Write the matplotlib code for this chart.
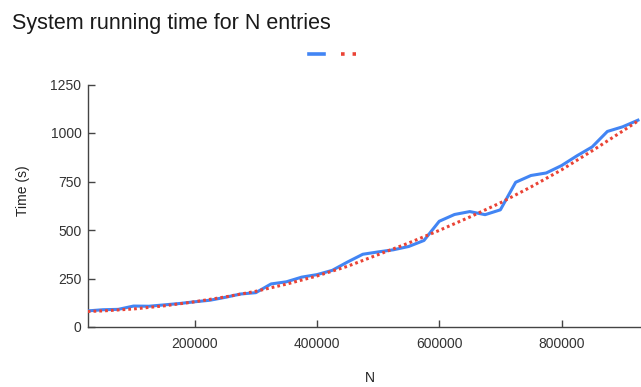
import numpy as np
import matplotlib
matplotlib.use("Agg")
import matplotlib.pyplot as plt
from matplotlib.lines import Line2D

plt.rc("font", family=["Liberation Sans", "DejaVu Sans"], size=10)

# measured running time (blue)
n_entries = [25000, 50000, 75000, 100000, 125000, 150000, 175000, 200000,
             225000, 250000, 275000, 300000, 325000, 350000, 375000, 400000,
             425000, 450000, 475000, 500000, 525000, 550000, 575000, 600000,
             625000, 650000, 675000, 700000, 725000, 750000, 775000, 800000,
             825000, 850000, 875000, 900000, 925000]
run_time = [83, 89, 91, 108, 107, 114, 121, 130,
            138, 153, 170, 177, 222, 233, 257, 270,
            292, 335, 375, 387, 398, 415, 446, 545,
            580, 595, 579, 604, 746, 781, 794, 832,
            882, 928, 1008, 1032, 1066]

# trend line (red dotted)
trend_n = [25000, 50000, 100000, 150000, 200000, 250000, 300000, 350000,
           400000, 450000, 500000, 550000, 600000, 650000, 700000, 750000,
           800000, 850000, 900000, 925000]
trend_time = [80, 83, 93, 109, 130, 155, 184, 221,
              263, 313, 373, 433, 498, 567, 640, 722,
              810, 908, 1010, 1062]

x_ticks = [200000, 400000, 600000, 800000]
y_ticks = [0, 250, 500, 750, 1000, 1250]

blue = "#4285f4"
red = "#ea4335"

fig = plt.figure(figsize=(6.41, 3.87), dpi=100)
ax = fig.add_axes([87.7/641, 1-327/387, 1-87.7/641, (327-84.5)/387])

ax.plot(n_entries, run_time, color=blue, lw=2.2, solid_joinstyle="round")
ax.plot(trend_n, trend_time, color=red, lw=2.2, linestyle=(0, (0.9, 1.0)))

ax.set_xlim(25000, 930000)
ax.set_ylim(0, 1250)
ax.set_xticks(x_ticks)
ax.set_yticks(y_ticks)
ax.set_xticklabels([str(v) for v in x_ticks])
ax.set_yticklabels([str(v) for v in y_ticks])

for s in ["top", "right"]:
    ax.spines[s].set_visible(False)
for s in ["left", "bottom"]:
    ax.spines[s].set_color("#444444")
    ax.spines[s].set_linewidth(1.0)
ax.spines["left"].set_zorder(0)
ax.tick_params(axis="both", direction="in", length=5, width=1.0,
               color="#444444", labelcolor="#333333", labelsize=10)
ax.tick_params(axis="y", pad=4.5)
ax.tick_params(axis="x", pad=7)

fig.text(12/641, 1-29.5/387, "System running time for N entries",
         fontsize=15.5, color="#1a1a1a", ha="left", va="baseline")
fig.text(370/641, 1-378/387, "N", fontsize=10, color="#222222",
         ha="center", va="center")
fig.text(22.5/641, 1-191/387, "Time (s)", fontsize=10, color="#222222",
         ha="center", va="center", rotation=90)

# legend without labels, like the original
handles = [Line2D([], [], color=blue, lw=2.6),
           Line2D([], [], color=red, lw=2.6, linestyle=(0, (1, 2.2)))]
fig.legend(handles, ["", ""], loc="center", bbox_to_anchor=(332.5/641, 1-55/387),
           ncol=2, frameon=False, handlelength=1.1, handletextpad=0,
           columnspacing=1.2, fontsize=10)

fig.savefig("out.png", dpi=100)
